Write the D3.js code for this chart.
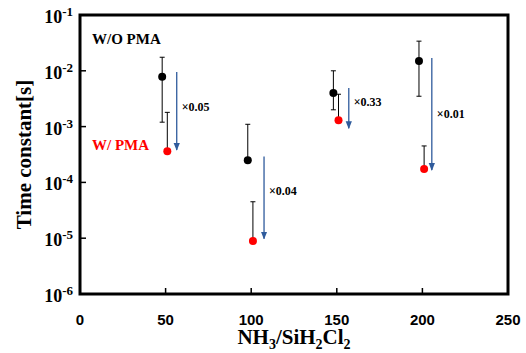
<!DOCTYPE html>
<html>
<head>
<meta charset="utf-8">
<script src="https://cdn.jsdelivr.net/npm/d3@7"></script>
<style>
  body { margin: 0; background: #fff; }
  svg { display: block; }
</style>
</head>
<body>
<svg></svg>
<script>
// NH3/SiH2Cl2 ratio
const ratioNoPma = [48, 98, 148, 198];
const ratioPma = [51, 101, 151, 201];

// time constants [s], W/O PMA (black)
const tauNoPma = [7.8e-3, 2.5e-4, 4.0e-3, 1.5e-2];
const errNoPmaHi = [1.75e-2, 1.1e-3, 1.0e-2, 3.4e-2];
const errNoPmaLo = [1.2e-3, 2.5e-4, 2.0e-3, 3.5e-3];

// time constants [s], W/ PMA (red)
const tauPma = [3.6e-4, 8.9e-6, 1.3e-3, 1.74e-4];
const errPmaHi = [1.8e-3, 4.5e-5, 3.8e-3, 4.5e-4];
const errPmaLo = [3.4e-4, 8.2e-6, 1.2e-3, 1.6e-4];

// reduction arrows
const arrowX = [56.5, 107.5, 157, 205.5];
const arrowFrom = [9.5e-3, 2.9e-4, 4.9e-3, 1.7e-2];
const arrowTo = [3.8e-4, 9.8e-6, 9.3e-4, 1.66e-4];
const arrowLabels = ["0.05", "0.04", "0.33", "0.01"];
const labelAt = [1.9e-3, 6.0e-5, 2.3e-3, 1.4e-3];

const xTicks = [0, 50, 100, 150, 200, 250];
const yExps = [-6, -5, -4, -3, -2, -1];

const w = 526, h = 353;
const margin = {top: 15, right: 18, bottom: 59, left: 80};
const innerWidth = w - margin.left - margin.right;
const innerHeight = h - margin.top - margin.bottom;

const svg = d3.select("svg").attr("width", w).attr("height", h);
const g = svg.append("g").attr("transform", `translate(${margin.left},${margin.top})`);

const xScale = d3.scaleLinear().domain([0, 250]).range([0, innerWidth]);
const yScale = d3.scaleLog().domain([1e-6, 1e-1]).range([innerHeight, 0]);

const serif = "'Liberation Serif', 'Times New Roman', serif";
const sans = "'Liberation Sans', Arial, sans-serif";

// frame
g.append("rect")
  .attr("x", 0).attr("y", 0)
  .attr("width", innerWidth).attr("height", innerHeight)
  .attr("fill", "none").attr("stroke", "#000").attr("stroke-width", 3);

// x ticks (inside)
g.selectAll(".xt").data(xTicks.slice(1, -1)).enter().append("line")
  .attr("x1", d => xScale(d)).attr("x2", d => xScale(d))
  .attr("y1", innerHeight).attr("y2", innerHeight - 6)
  .attr("stroke", "#000").attr("stroke-width", 1.5);

g.selectAll(".xl").data(xTicks).enter().append("text")
  .attr("x", d => xScale(d)).attr("y", innerHeight + 31)
  .attr("text-anchor", "middle")
  .style("font-family", sans).style("font-weight", "bold").style("font-size", "15px")
  .text(d => d);

// y ticks (inside)
g.selectAll(".yt").data(yExps.slice(1, -1)).enter().append("line")
  .attr("x1", 0).attr("x2", 6)
  .attr("y1", d => yScale(Math.pow(10, d))).attr("y2", d => yScale(Math.pow(10, d)))
  .attr("stroke", "#000").attr("stroke-width", 1.5);

const yl = g.selectAll(".yl").data(yExps).enter().append("text")
  .attr("x", -7).attr("y", d => yScale(Math.pow(10, d)) + 8)
  .attr("text-anchor", "end")
  .style("font-family", serif).style("font-weight", "bold").style("font-size", "18px");
yl.append("tspan").text("10");
yl.append("tspan").attr("dy", -7).style("font-size", "13px").text(d => d);

// error bars
function errBars(xs, lo, hi) {
  xs.forEach((x, i) => {
    const cx = xScale(x);
    g.append("line").attr("x1", cx).attr("x2", cx)
      .attr("y1", yScale(hi[i])).attr("y2", yScale(lo[i]))
      .attr("stroke", "#000").attr("stroke-width", 1);
    [hi[i], lo[i]].forEach(v => {
      g.append("line").attr("x1", cx - 2.5).attr("x2", cx + 2.5)
        .attr("y1", yScale(v)).attr("y2", yScale(v))
        .attr("stroke", "#000").attr("stroke-width", 1);
    });
  });
}
errBars(ratioNoPma, errNoPmaLo, errNoPmaHi);
errBars(ratioPma, errPmaLo, errPmaHi);

g.selectAll(".dk").data(ratioNoPma).enter().append("circle")
  .attr("cx", d => xScale(d)).attr("cy", (d, i) => yScale(tauNoPma[i]))
  .attr("r", 4).attr("fill", "#000");
g.selectAll(".dr").data(ratioPma).enter().append("circle")
  .attr("cx", d => xScale(d)).attr("cy", (d, i) => yScale(tauPma[i]))
  .attr("r", 4).attr("fill", "#ff0000");

// arrows
svg.append("defs").append("marker")
  .attr("id", "ah").attr("viewBox", "0 0 10 10")
  .attr("refX", 9).attr("refY", 5)
  .attr("markerWidth", 6).attr("markerHeight", 6)
  .attr("orient", "auto")
  .append("path").attr("d", "M0,1 L10,5 L0,9 Z").attr("fill", "#2f5b9c");

arrowX.forEach((x, i) => {
  g.append("line")
    .attr("x1", xScale(x)).attr("x2", xScale(x))
    .attr("y1", yScale(arrowFrom[i])).attr("y2", yScale(arrowTo[i]))
    .attr("stroke", "#2f5b9c").attr("stroke-width", 1.3)
    .attr("marker-end", "url(#ah)");
  g.append("text")
    .attr("x", xScale(x) + 5).attr("y", yScale(labelAt[i]))
    .style("font-family", serif).style("font-weight", "bold").style("font-size", "12px")
    .text("\u00d7" + arrowLabels[i]);
});

// legend labels
g.append("text").attr("x", 12).attr("y", 29)
  .style("font-family", serif).style("font-weight", "bold").style("font-size", "15px")
  .text("W/O PMA");
g.append("text").attr("x", 12).attr("y", 135)
  .style("font-family", serif).style("font-weight", "bold").style("font-size", "15px")
  .attr("fill", "#ff0000")
  .text("W/ PMA");

// axis titles
svg.append("text")
  .attr("transform", `translate(31,${margin.top + innerHeight / 2}) rotate(-90)`)
  .attr("text-anchor", "middle")
  .style("font-family", serif).style("font-weight", "bold").style("font-size", "21px")
  .text("Time constant[s]");

const xt = svg.append("text")
  .attr("x", margin.left + innerWidth / 2).attr("y", 344)
  .attr("text-anchor", "middle")
  .style("font-family", serif).style("font-weight", "bold").style("font-size", "21px");
xt.append("tspan").text("NH");
xt.append("tspan").attr("dy", 5).style("font-size", "14px").text("3");
xt.append("tspan").attr("dy", -5).text("/SiH");
xt.append("tspan").attr("dy", 5).style("font-size", "14px").text("2");
xt.append("tspan").attr("dy", -5).text("Cl");
xt.append("tspan").attr("dy", 5).style("font-size", "14px").text("2");
</script>
</body>
</html>
